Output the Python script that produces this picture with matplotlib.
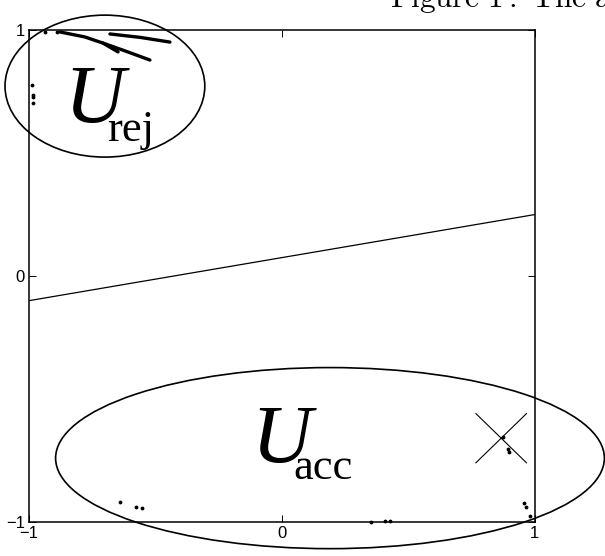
import matplotlib.pyplot as plt
from matplotlib.patches import Ellipse

plt.rcParams['mathtext.fontset'] = 'cm'

# separating line
line_x = [-1, 1]
line_y = [-0.10, 0.25]

# rejected samples near the top edge (dense streaks)
streak_a_x = [-0.877, -0.78, -0.708, -0.648]
streak_a_y = [0.992, 0.972, 0.947, 0.911]
streak_b_x = [-0.708, -0.62, -0.522]
streak_b_y = [0.947, 0.915, 0.878]
streak_c_x = [-0.680, -0.56, -0.443]
streak_c_y = [0.984, 0.970, 0.951]
rej_x = [-0.937, -0.889, -0.988, -0.985, -0.985, -0.985]
rej_y = [0.992, 0.992, 0.776, 0.736, 0.728, 0.703]

# accepted samples near the bottom
acc_x = [-0.640, -0.577, -0.553, 0.352, 0.407, 0.427,
         0.874, 0.893, 0.897, 0.957, 0.964, 0.980]
acc_y = [-0.919, -0.939, -0.943, -1.0, -0.996, -0.996,
         -0.654, -0.703, -0.715, -0.923, -0.939, -0.976]

# cross marker
cross_x, cross_y, cross_r = 0.867, -0.659, 0.1

fig = plt.figure(figsize=(6.05, 5.56), dpi=100)
ax = fig.add_axes([0.048, 0.061, 0.836, 0.885])

ax.plot(line_x, line_y, color='black', lw=0.9)

for sx, sy in [(streak_a_x, streak_a_y), (streak_b_x, streak_b_y), (streak_c_x, streak_c_y)]:
    ax.plot(sx, sy, color='black', lw=2.4, solid_capstyle='round', clip_on=False)
ax.plot(rej_x, rej_y, 'k.', ms=3.5, clip_on=False)
ax.plot(acc_x, acc_y, 'k.', ms=3.5, clip_on=False)

ax.plot([cross_x - cross_r, cross_x + cross_r], [cross_y + cross_r, cross_y - cross_r], color='black', lw=0.8)
ax.plot([cross_x - cross_r, cross_x + cross_r], [cross_y - cross_r, cross_y + cross_r], color='black', lw=0.8)

ax.add_patch(Ellipse((-0.70, 0.772), 0.79, 0.577, fill=False, lw=1.2, clip_on=False))
ax.add_patch(Ellipse((0.19, -0.74), 2.17, 0.736, fill=False, lw=1.2, clip_on=False))

ax.text(-0.86, 0.625, 'U', fontfamily='Liberation Serif', fontstyle='italic', fontsize=60)
ax.text(-0.69, 0.55, 'rej', fontfamily='Liberation Serif', fontsize=32)
ax.text(-0.12, -0.755, 'U', fontfamily='Liberation Serif', fontstyle='italic', fontsize=60)
ax.text(0.045, -0.825, 'acc', fontfamily='Liberation Serif', fontsize=32)

ax.set_xlim(-1, 1)
ax.set_ylim(-1, 1)
ax.set_xticks([-1, 0, 1])
ax.set_yticks([-1, 0, 1])
ax.set_xticklabels(['\u22121', '0', '1'], fontfamily='Liberation Sans', fontsize=12)
ax.set_yticklabels(['\u22121', '0', '1'], fontfamily='Liberation Sans', fontsize=12)
ax.tick_params(direction='in', length=5, width=0.7, top=True, right=True, pad=3)
for s in ax.spines.values():
    s.set_linewidth(1.1)

fig.text(0.645, 0.987, r'$\mathrm{Figure\ 1{:}\ The\ a}$', fontsize=22.5)

fig.savefig('out.png', dpi=100)
